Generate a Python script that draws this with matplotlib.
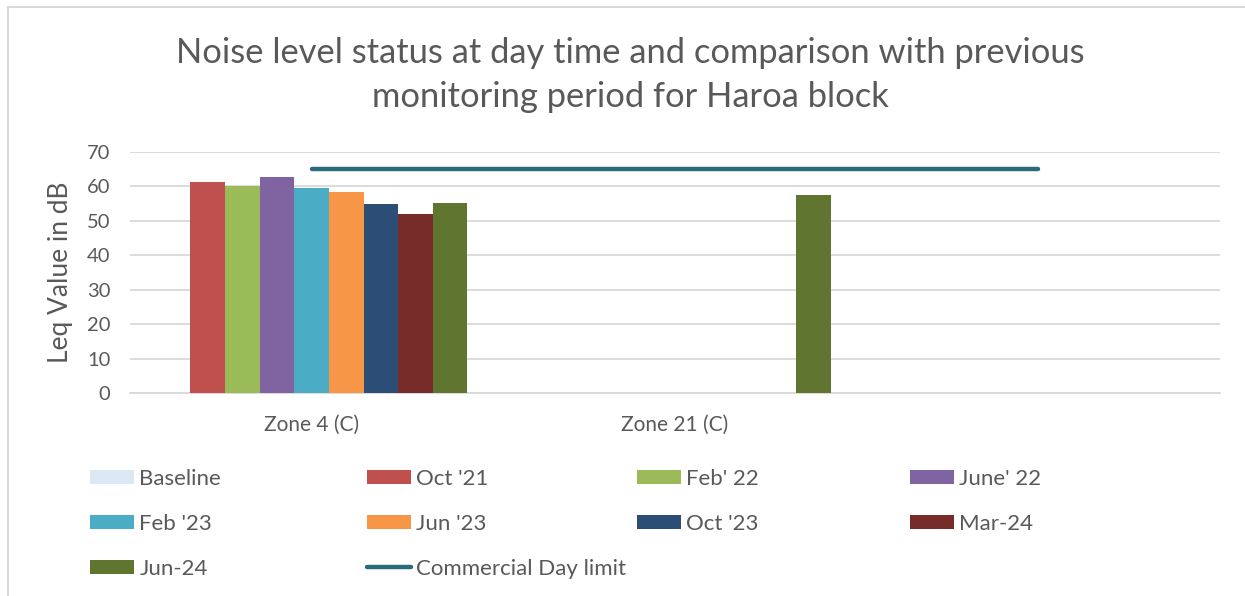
import matplotlib
matplotlib.use("Agg")
import matplotlib.pyplot as plt
import numpy as np
from matplotlib.patches import Patch
from matplotlib.lines import Line2D

plt.rcParams['font.family'] = ['Lato', 'DejaVu Sans']

categories = ["Zone 4 (C)", "Zone 21 (C)", ""]
series_names = ["Baseline", "Oct '21", "Feb' 22", "June' 22", "Feb '23",
                "Jun '23", "Oct '23", "Mar-24", "Jun-24"]
values = [
    [np.nan, np.nan, np.nan],   # Baseline
    [61.3, np.nan, np.nan],     # Oct '21
    [60.1, np.nan, np.nan],     # Feb' 22
    [62.7, np.nan, np.nan],     # June' 22
    [59.6, np.nan, np.nan],     # Feb '23
    [58.4, np.nan, np.nan],     # Jun '23
    [54.9, np.nan, np.nan],     # Oct '23
    [52.0, np.nan, np.nan],     # Mar-24
    [55.1, 57.4, np.nan],       # Jun-24
]
limit_name = "Commercial Day limit"
limit_values = [65, 65, 65]

colors = ["#dbe8f5", "#c0504d", "#9bbb59", "#8064a2", "#4bacc6",
          "#f79646", "#2c4d75", "#772c2a", "#5f7530"]
limit_color = "#2a6a7d"
text_color = "#595959"

fig = plt.figure(figsize=(12.45, 5.96), dpi=100)
ax = fig.add_axes([130/1245, 1-393/596, 1090/1245, 241/596])

x = np.arange(len(categories))
bw = 0.0953
n = len(series_names)
for i, (name, vals) in enumerate(zip(series_names, values)):
    off = (i - (n-1)/2) * bw
    ax.bar(x + off, vals, width=bw, color=colors[i], label=name, zorder=3)

ax.plot(x, limit_values, color=limit_color, lw=3.2, solid_capstyle='round', zorder=4)

ax.set_xlim(-0.5, 2.5)
ax.set_ylim(0, 70)
ax.set_yticks(range(0, 71, 10))
ax.set_xticks(x)
ax.set_xticklabels(categories, fontsize=15, color=text_color)
ax.tick_params(axis='y', labelsize=14.5, labelcolor=text_color, length=0, pad=14)
ax.tick_params(axis='x', length=0, pad=15.5)
ax.grid(axis='y', color='#d9d9d9', lw=1.3, zorder=0)
for s in ax.spines.values():
    s.set_visible(False)
ax.spines['bottom'].set_visible(True)
ax.spines['bottom'].set_color('#d9d9d9')
ax.spines['bottom'].set_linewidth(1.3)
ax.set_ylabel("Leq Value in dB", fontsize=19, color=text_color, labelpad=10)

fig.text(630/1245, 1-75/596, "Noise level status at day time and comparison with previous\nmonitoring period for Haroa block",
         ha='center', va='center', fontsize=24.8, color=text_color, linespacing=1.47)

# legend (one legend per column)
handles = [Patch(facecolor=c, edgecolor='none') for c in colors]
limit_handle = Line2D([0], [0], color=limit_color, lw=3.2, solid_capstyle='round')
cols = [
    ([handles[0], handles[4], handles[8]], [series_names[0], series_names[4], series_names[8]], 90),
    ([handles[1], handles[5], limit_handle], [series_names[1], series_names[5], limit_name], 367),
    ([handles[2], handles[6]], [series_names[2], series_names[6]], 637),
    ([handles[3], handles[7]], [series_names[3], series_names[7]], 910),
]
for hs, ls, px in cols:
    leg = fig.legend(hs, ls, loc='upper left', bbox_to_anchor=(px/1245, 1-469/596),
                     frameon=False, fontsize=16, handlelength=2.0, handleheight=0.63,
                     handletextpad=0.22, labelspacing=1.12, borderaxespad=0, borderpad=0)
    for t in leg.get_texts():
        t.set_color(text_color)

# chart border (top and left visible)
fig.add_artist(Line2D([8/1245, 8/1245], [0, 1-7/596], transform=fig.transFigure, color='#d9d9d9', lw=1.5))
fig.add_artist(Line2D([8/1245, 1], [1-7/596, 1-7/596], transform=fig.transFigure, color='#d9d9d9', lw=1.5))

fig.savefig("out.png", dpi=100)
